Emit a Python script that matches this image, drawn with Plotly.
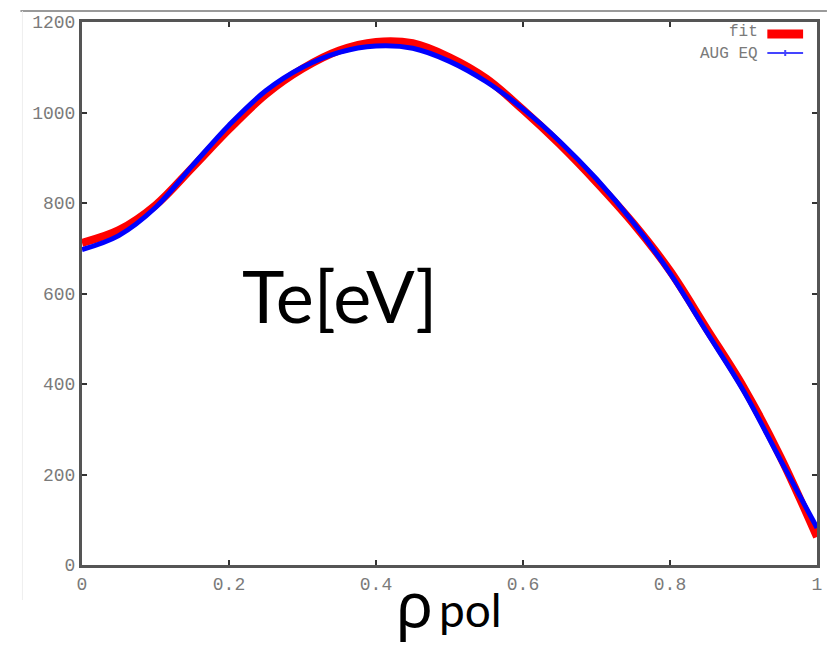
import plotly.graph_objects as go

rho = [0.0, 0.05, 0.1, 0.15, 0.2, 0.25, 0.3, 0.35, 0.4, 0.45, 0.5,
       0.55, 0.6, 0.65, 0.7, 0.75, 0.8, 0.85, 0.9, 0.95, 1.0]
te_fit = [712, 740, 795, 878, 963, 1040, 1097, 1137, 1156, 1153, 1122,
          1075, 1006, 930, 846, 755, 650, 522, 393, 240, 62]
te_aug = [697, 728, 790, 882, 972, 1048, 1100, 1133, 1147, 1142, 1113,
          1068, 1008, 936, 853, 757, 645, 515, 385, 233, 82]
x_ticks = [0, 0.2, 0.4, 0.6, 0.8, 1]
x_tick_labels = ["0", "0.2", "0.4", "0.6", "0.8", "1"]
y_ticks = [0, 200, 400, 600, 800, 1000, 1200]
y_tick_labels = ["0", "200", "400", "600", "800", "1000", "1200"]
legend_names = ["fit", "AUG EQ"]

W, H = 832, 645
L, R, T, B = 82, 10, 22, 80
PW, PH = W - L - R, H - T - B


def px(x):
    return (x - L) / PW


def py(y):
    return (H - B - y) / PH


tick_font = dict(family="Liberation Mono, DejaVu Sans Mono, monospace", size=18, color="#7a7a7a")
legend_font = dict(family="Liberation Mono, DejaVu Sans Mono, monospace", size=16, color="#7a7a7a")

fig = go.Figure()
fig.add_trace(go.Scatter(x=rho, y=te_fit, mode="lines", name=legend_names[0],
                         line=dict(color="#ff0000", width=8, shape="spline"),
                         showlegend=False))
fig.add_trace(go.Scatter(x=rho, y=te_aug, mode="lines", name=legend_names[1],
                         line=dict(color="#0000ff", width=5, shape="spline"),
                         showlegend=False))

axis_common = dict(showgrid=False, zeroline=False, showline=True, mirror="ticks",
                   linecolor="#555555", linewidth=3, ticks="inside", ticklen=5,
                   tickwidth=2, tickcolor="#333", tickfont=tick_font)
fig.update_xaxes(range=[0, 1], tickvals=x_ticks, ticktext=x_tick_labels, **axis_common)
fig.update_yaxes(range=[0, 1200], tickvals=y_ticks, ticktext=y_tick_labels, **axis_common)

shapes = [
    # screenshot border lines
    dict(type="line", xref="paper", yref="paper", x0=px(20), x1=px(832), y0=py(11), y1=py(11),
         line=dict(color="#9a9a9a", width=2)),
    dict(type="line", xref="paper", yref="paper", x0=px(22), x1=px(22), y0=py(11), y1=py(600),
         line=dict(color="#eeeeee", width=1)),
    # legend samples
    dict(type="line", xref="paper", yref="paper", x0=px(772), x1=px(808), y0=py(34), y1=py(34),
         line=dict(color="#ff0000", width=9)),
    dict(type="line", xref="paper", yref="paper", x0=px(772), x1=px(808), y0=py(53), y1=py(53),
         line=dict(color="#4444ff", width=2)),
    dict(type="line", xref="paper", yref="paper", x0=px(790), x1=px(790), y0=py(50), y1=py(56),
         line=dict(color="#4444ff", width=2)),
]

annotations = [
    dict(text=legend_names[0], xref="paper", yref="paper", x=px(765), y=py(32),
         xanchor="right", yanchor="middle", showarrow=False, font=legend_font),
    dict(text=legend_names[1], xref="paper", yref="paper", x=px(765), y=py(54),
         xanchor="right", yanchor="middle", showarrow=False, font=legend_font),
    dict(text="Te[eV]", xref="paper", yref="paper", x=px(341), y=py(295),
         xanchor="center", yanchor="middle", showarrow=False,
         font=dict(family="Lato, Noto Sans, sans-serif", size=72, color="#000")),
    dict(text="ρ", xref="paper", yref="paper", x=px(417), y=py(603),
         xanchor="center", yanchor="middle", showarrow=False,
         font=dict(family="Noto Sans, DejaVu Sans, sans-serif", size=62, color="#000")),
    dict(text="pol", xref="paper", yref="paper", x=px(473), y=py(609),
         xanchor="center", yanchor="middle", showarrow=False,
         font=dict(family="Lato, Noto Sans, sans-serif", size=46, color="#000")),
]

fig.update_layout(width=W, height=H, margin=dict(l=L, r=R, t=T, b=B, pad=0),
                  paper_bgcolor="white", plot_bgcolor="white",
                  shapes=shapes, annotations=annotations, showlegend=False)

fig.write_html("out.html")
